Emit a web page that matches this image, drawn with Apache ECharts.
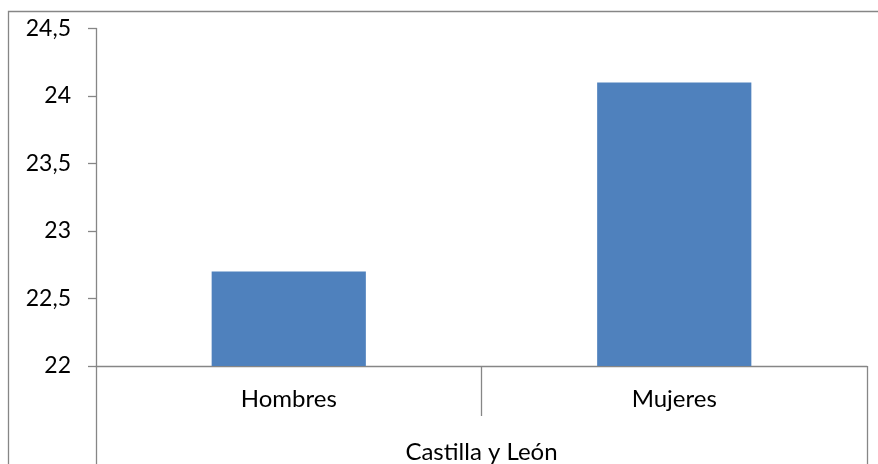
<!DOCTYPE html>
<html>
<head>
<meta charset="utf-8">
<script src="https://cdn.jsdelivr.net/npm/echarts@6/dist/echarts.min.js"></script>
<style>html,body{margin:0;padding:0;background:#fff}#c{width:878px;height:464px}</style>
</head>
<body>
<div id="c"></div>
<script>
var categories = ['Hombres', 'Mujeres'];
var groupLabels = ['Castilla y León'];
var values = [22.7, 24.1];
var yMin = 22, yMax = 24.5, yStep = 0.5;

var FONT = 'Lato';
var GRAY = '#868686';
var chart = echarts.init(document.getElementById('c'), null, {renderer: 'canvas'});
chart.setOption({
  animation: false,
  backgroundColor: '#fff',
  grid: {left: 96, right: 11, top: 28.5, bottom: 97, containLabel: false},
  graphic: [{
    type: 'rect', silent: true,
    shape: {x: 8.5, y: 11.5, width: 1000, height: 1000},
    style: {fill: 'none', stroke: GRAY, lineWidth: 1.3}
  }],
  xAxis: [{
    type: 'category', data: categories, position: 'bottom',
    axisLine: {show: true, lineStyle: {color: GRAY, width: 1.3}},
    axisTick: {show: true, length: 50, alignWithLabel: false, lineStyle: {color: GRAY, width: 1.3}},
    axisLabel: {color: '#000', fontFamily: FONT, fontSize: 24, margin: 21},
    splitLine: {show: false}
  }, {
    type: 'category', data: groupLabels, position: 'bottom', offset: 50,
    axisLine: {show: false},
    axisTick: {show: true, length: 60, lineStyle: {color: GRAY, width: 1.3}},
    axisLabel: {color: '#000', fontFamily: FONT, fontSize: 24, margin: 24},
    splitLine: {show: false}
  }],
  yAxis: {
    type: 'value', min: yMin, max: yMax, interval: yStep,
    axisLine: {show: true, lineStyle: {color: GRAY, width: 1.3}},
    axisTick: {show: true, length: 8, lineStyle: {color: GRAY, width: 1.3}},
    axisLabel: {color: '#000', fontFamily: FONT, fontSize: 23, margin: 25,
      formatter: function (v) { return String(v).replace('.', ','); }},
    splitLine: {show: false}
  },
  series: [{
    type: 'bar', xAxisIndex: 0, data: values, barWidth: '40%',
    itemStyle: {color: '#4F81BD'}
  }]
});
</script>
</body>
</html>
